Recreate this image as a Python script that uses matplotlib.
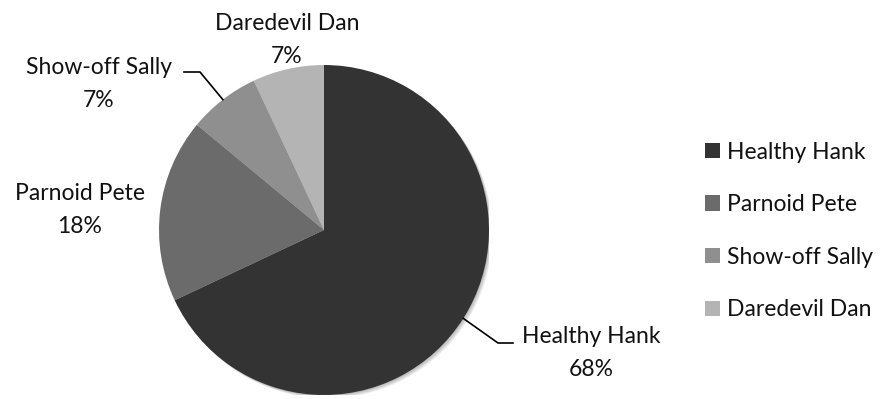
import numpy as np
import matplotlib
matplotlib.use("Agg")
import matplotlib.pyplot as plt
from matplotlib.patches import Circle

plt.rcParams['font.family'] = ['Lato', 'DejaVu Sans']

names = ['Healthy Hank', 'Parnoid Pete', 'Show-off Sally', 'Daredevil Dan']
shares = [68, 18, 7, 7]
colors = ['#333333', '#6b6b6b', '#8f8f8f', '#b4b4b4']

W, H = 885, 399
fig = plt.figure(figsize=(W / 100, H / 100), dpi=100)

# pie centre and radius in pixels
cx, cy, r = 324, 230, 165
ax = fig.add_axes([(cx - r) / W, (H - cy - r) / H, 2 * r / W, 2 * r / H])
ax.set_aspect('equal')
ax.axis('off')


def to_data(px, py):
    return (px - cx) / r, (cy - py) / r


# soft shadow to the lower right
for k in range(1, 5):
    ax.add_patch(Circle((0.005 * k, -0.005 * k), 1.0, color='black',
                        alpha=0.07, lw=0, zorder=0))

wedges, _ = ax.pie(shares, colors=colors, startangle=90, counterclock=False,
                   radius=1, wedgeprops=dict(linewidth=0), normalize=True)
ax.set_xlim(-1, 1)
ax.set_ylim(-1, 1)

label_pos = [(591, 353), (80, 210), (99, 84), (287, 40)]
elbows = {0: [(498, 343), (513, 343)], 2: [(200, 72), (184, 72)]}

fs = 16.5
for i, (w, name, v) in enumerate(zip(wedges, names, shares)):
    tx, ty = to_data(*label_pos[i])
    ax.text(tx, ty, f'{name}\n{v}%', ha='center', va='center', fontsize=fs,
            linespacing=1.7, color='#111111')
    if i in elbows:
        mid = np.deg2rad((w.theta1 + w.theta2) / 2)
        xs = [np.cos(mid)] + [to_data(*p)[0] for p in elbows[i]]
        ys = [np.sin(mid)] + [to_data(*p)[1] for p in elbows[i]]
        ax.plot(xs, ys, color='black', lw=1.2, clip_on=False)

leg = fig.legend(wedges, names, loc='center left', bbox_to_anchor=(705 / W, 1 - 231 / H),
                 frameon=False, fontsize=fs, handlelength=0.65, handleheight=0.65,
                 handletextpad=0.3, labelspacing=1.38, borderpad=0, borderaxespad=0)
for t in leg.get_texts():
    t.set_color('#111111')

fig.savefig('out.png', dpi=100)
